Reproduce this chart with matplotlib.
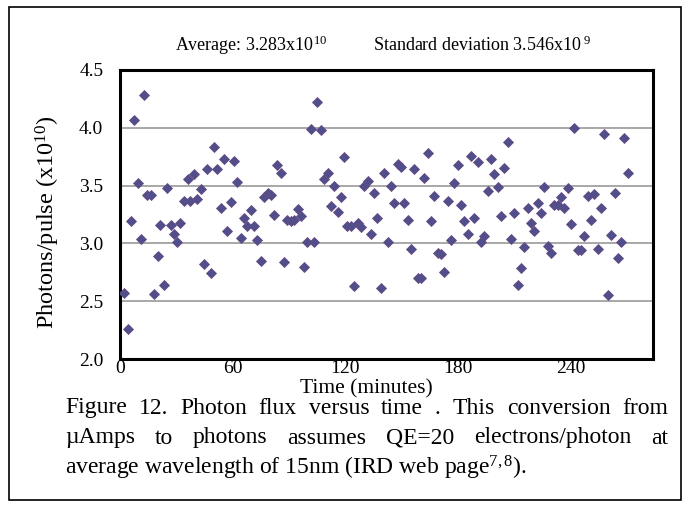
import matplotlib
matplotlib.use("Agg")
import matplotlib.pyplot as plt
from matplotlib.patches import Rectangle

plt.rcParams['font.family'] = ['Liberation Serif', 'DejaVu Serif']
plt.rcParams['mathtext.fontset'] = 'custom'
plt.rcParams['mathtext.rm'] = 'Liberation Serif'
plt.rcParams['mathtext.it'] = 'Liberation Serif:italic'

# time (minutes) and photons/pulse (x1e10)
minutes = [
    2.1, 4.1, 5.7, 7.3, 9.4, 11.0, 12.6, 14.2, 16.4, 18.3, 20.1, 21.5, 23.6, 25.2,
    27.0, 28.8, 30.6, 32.2, 34.1, 36.4, 37.5, 39.6, 41.2, 43.0, 45.0, 46.6, 48.5,
    50.3, 51.9, 53.7, 55.5, 57.1, 59.0, 60.8, 62.6, 64.4, 66.1, 67.9, 69.7, 71.5,
    73.2, 75.0, 76.8, 78.6, 80.4, 82.1, 83.9, 85.7, 87.5, 89.2, 91.0, 92.8, 94.6,
    96.4, 98.1, 99.9, 101.7, 103.5, 105.2, 107.0, 108.8, 110.6, 112.4, 114.1,
    115.9, 117.7, 119.5, 121.2, 123.0, 124.8, 126.6, 128.4, 130.1, 131.9, 133.7,
    135.5, 137.2, 139.0, 140.8, 142.6, 144.4, 146.1, 147.9, 149.7, 151.5, 153.2,
    155.0, 156.8, 158.6, 160.4, 162.1, 163.9, 165.7, 167.5, 169.2, 171.0, 172.8,
    174.6, 176.4, 178.1, 179.9, 181.7, 183.5, 185.2, 187.0, 188.8, 190.6, 192.4,
    194.1, 195.9, 197.7, 199.5, 201.2, 203.0, 204.8, 206.6, 208.4, 210.1, 211.9,
    213.7, 215.5, 217.2, 219.0, 220.8, 222.6, 224.4, 226.1, 227.9, 229.7, 231.5,
    233.2, 235.0, 236.8, 238.6, 240.4, 242.1, 243.9, 245.7, 247.5, 249.2, 251.0,
    252.8, 254.6, 256.4, 258.1, 259.9, 261.7, 263.5, 265.2, 267.0, 268.8, 270.6,
]
photons = [
    2.57, 2.26, 3.19, 4.07, 3.52, 3.04, 4.28, 3.42, 3.42, 2.56, 2.89, 3.16, 2.64, 3.48,
    3.16, 3.08, 3.01, 3.18, 3.37, 3.56, 3.37, 3.60, 3.38, 3.47, 2.82, 3.64, 2.74,
    3.83, 3.64, 3.31, 3.73, 3.11, 3.36, 3.71, 3.53, 3.05, 3.22, 3.15, 3.29, 3.15,
    3.03, 2.85, 3.40, 3.44, 3.42, 3.25, 3.68, 3.61, 2.84, 3.20, 3.19, 3.20, 3.30,
    3.24, 2.80, 3.01, 3.99, 3.01, 4.22, 3.98, 3.56, 3.61, 3.32, 3.50,
    3.27, 3.40, 3.75, 3.15, 3.15, 2.63, 3.18, 3.14, 3.50, 3.54, 3.08,
    3.44, 3.22, 2.61, 3.61, 3.01, 3.50, 3.35, 3.69, 3.66, 3.35, 3.20,
    2.95, 3.64, 2.70, 2.70, 3.57, 3.78, 3.19, 3.41, 2.92, 2.91, 2.75,
    3.37, 3.03, 3.52, 3.68, 3.33, 3.19, 3.08, 3.76, 3.22, 3.70, 3.01,
    3.06, 3.45, 3.73, 3.60, 3.49, 3.24, 3.65, 3.88, 3.04, 3.26, 2.64,
    2.79, 2.97, 3.31, 3.18, 3.11, 3.35, 3.26, 3.49, 2.98, 2.92, 3.33,
    3.33, 3.40, 3.31, 3.48, 3.17, 4.00, 2.94, 2.94, 3.06, 3.41, 3.20,
    3.43, 2.95, 3.31, 3.95, 2.55, 3.07, 3.44, 2.87, 3.01, 3.91, 3.61,
]
x_ticks = [0, 60, 120, 180, 240]
y_ticks = [2.0, 2.5, 3.0, 3.5, 4.0, 4.5]

W, H = 686, 518
fig = plt.figure(figsize=(W / 100, H / 100), dpi=100)


def fx(px):
    return px / W


def fy(py):
    return 1 - py / H


# outer frame of the figure panel
fig.patches.append(Rectangle((fx(9), fy(500)), fx(681) - fx(9), fy(7) - fy(500),
                             transform=fig.transFigure, fill=False,
                             edgecolor='black', linewidth=1.2))

ax = fig.add_axes([fx(120), fy(359), fx(653) - fx(120), fy(70) - fy(359)])
ax.plot(minutes, photons, linestyle='none', marker='D', markersize=4.6,
        markerfacecolor='#4f4f8c', markeredgecolor='#6a4c82', markeredgewidth=0.6,
        zorder=3)

ax.set_xlim(0, 284)
ax.set_ylim(2.0, 4.5)
ax.set_xticks(x_ticks)
ax.set_yticks(y_ticks)
ax.set_yticklabels([f"{v:.1f}" for v in y_ticks])
ax.tick_params(axis='both', length=0, labelsize=14)
ax.tick_params(axis='x', pad=1)
ax.tick_params(axis='y', pad=12)
ax.yaxis.grid(True, color='#a8a8a8', linewidth=1.4)
ax.set_axisbelow(True)
for s in ax.spines.values():
    s.set_linewidth(2.2)
    s.set_color('black')

fig.text(fx(48), fy(222), "Photons/pulse (x10$^{10}$)", rotation=90,
         ha='center', va='center', fontsize=17.5)
fig.text(fx(366), fy(389), "Time (minutes)", ha='center', va='center', fontsize=15.5)

fig.text(fx(175), fy(45), "Average: 3.283x10$^{10}$", ha='left', va='center', fontsize=13)
fig.text(fx(373), fy(45), "Standard deviation 3.546x10$^{\\ 9}$", ha='left', va='center',
         fontsize=13)

# caption, first two lines justified
fig.canvas.draw()
renderer = fig.canvas.get_renderer()
cap_left, cap_right = 65, 668
cap_size = 17


def justify(words, py):
    texts = [fig.text(0, fy(py), w, ha='left', va='center', fontsize=cap_size) for w in words]
    widths = [t.get_window_extent(renderer).width for t in texts]
    gap = (cap_right - cap_left - sum(widths)) / (len(words) - 1)
    x = cap_left
    for t, w in zip(texts, widths):
        t.set_x(fx(x))
        x += w + gap


justify(["Figure", "12.", "Photon", "flux", "versus", "time", ".", "This",
         "conversion", "from"], 408)
justify(["\u00b5Amps", "to", "photons", "assumes", "QE=20", "electrons/photon", "at"], 438)
fig.text(fx(cap_left), fy(468), "average wavelength of 15nm (IRD web page$^{7,8}$).",
         ha='left', va='center', fontsize=cap_size)

fig.savefig("out.png", dpi=100)
